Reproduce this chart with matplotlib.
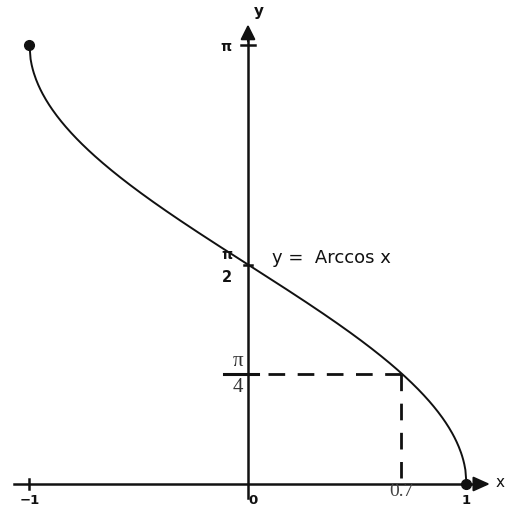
import numpy as np
from matplotlib import pyplot as plt

# y = arccos x on [-1, 1]
x_min, x_max = -1.0, 1.0
x_ticks = [-1, 0, 1]
x_tick_labels = ["\u22121", "0", "1"]
x_mark = 0.7
y_mark = np.pi / 4

xs = np.linspace(x_min, x_max, 400)
ys = np.arccos(xs)

fig = plt.figure(figsize=(5.08, 5.09), dpi=100)
ax = fig.add_axes([0, 0, 1, 1])
ax.set_xlim(-1.135, 1.190)
ax.set_ylim(-0.179, 3.465)
ax.axis("off")

k = "#111111"
serif = ["Liberation Serif", "DejaVu Serif"]

# axes with arrows
ax.plot([-1.071, 1.08], [0, 0], color=k, lw=1.8)
ax.annotate("", xy=(1.12, 0), xytext=(1.04, 0),
            arrowprops=dict(arrowstyle="-|>,head_length=1.0,head_width=0.45", color=k, lw=1.5))
ax.plot([0, 0], [-0.097, 3.25], color=k, lw=1.8)
ax.annotate("", xy=(0, 3.31), xytext=(0, 3.15),
            arrowprops=dict(arrowstyle="-|>,head_length=0.9,head_width=0.45", color=k, lw=1.5))
ax.text(1.155, 0.01, "x", fontsize=11, va="center", ha="center", color=k)
ax.text(0.05, 3.38, "y", fontsize=11, fontweight="bold", va="center", ha="center", color=k)

# tick marks
ax.plot([-1, -1], [-0.035, 0.035], color=k, lw=1.8)
ax.plot([-0.03, 0.03], [np.pi, np.pi], color=k, lw=1.8)
ax.plot([-0.02, 0.02], [np.pi / 2, np.pi / 2], color=k, lw=1.8)
ax.plot([-0.11, 0.045], [y_mark, y_mark], color=k, lw=2.2)

for xt, lab in zip(x_ticks, x_tick_labels):
    ax.text(xt + (0.022 if xt == 0 else 0.0), -0.12, lab, fontsize=9.5, fontweight="bold",
            ha="center", va="center", color=k)

ax.text(-0.10, np.pi - 0.01, "\u03c0", fontsize=10, fontweight="bold", ha="center", va="center", color=k)
ax.text(-0.098, np.pi / 2 + 0.07, "\u03c0", fontsize=10, fontweight="bold", ha="center", va="center", color=k)
ax.text(-0.098, np.pi / 2 - 0.09, "2", fontsize=10.5, fontweight="bold", ha="center", va="center", color=k)
ax.text(-0.045, y_mark + 0.09, "\u03c0", fontsize=15, family=serif, ha="center", va="center", color="#333333")
ax.text(-0.045, y_mark - 0.095, "4", fontsize=15, family=serif, ha="center", va="center", color="#333333")
ax.text(x_mark, -0.055, "0.7", fontsize=14, family=serif, ha="center", va="center", color="#444444")

# dashed guide lines
ax.plot([0.09, x_mark], [y_mark, y_mark], color=k, lw=2, dashes=(6, 4.5))
ax.plot([x_mark, x_mark], [y_mark, 0.04], color=k, lw=2, dashes=(6, 4.5))

# the curve and its endpoints
ax.plot(xs, ys, color=k, lw=1.4)
ax.plot([x_min, x_max], [np.arccos(x_min), np.arccos(x_max)], "o", color=k, ms=7)

ax.text(0.11, np.pi / 2 + 0.05, "y =  Arccos x", fontsize=13, ha="left", va="center", color=k)

plt.savefig("out.png", dpi=100)
